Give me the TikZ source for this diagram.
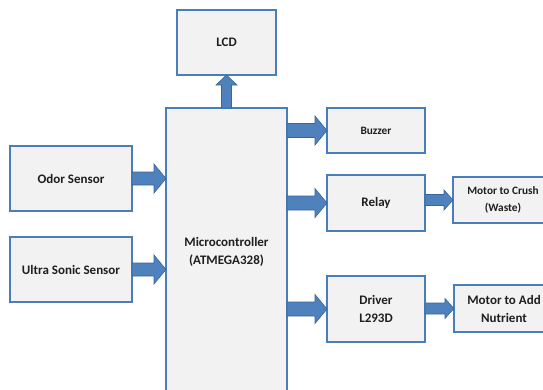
\documentclass[tikz,border=0pt]{standalone}
\usepackage{fontspec}
\setmainfont{Carlito}
\usetikzlibrary{calc}
\definecolor{boxfill}{HTML}{F2F2F2}
\definecolor{boxline}{HTML}{4A7EBB}
\definecolor{arrfill}{HTML}{4F81BD}
\definecolor{arrline}{HTML}{3A6699}
\definecolor{txt}{HTML}{1E1E1E}
\tikzset{
  blockbox/.style={draw=boxline, fill=boxfill, line width=1.3pt, inner sep=0pt, outer sep=0pt,
    align=center, text=txt, font=\bfseries\fontsize{13}{18}\selectfont},
  smalltext/.style={font=\bfseries\fontsize{11.3}{17}\selectfont},
  blockarr/.style={fill=arrfill, draw=arrline, line width=0.6pt, line join=miter}
}
\newcommand\harr[5]{\draw[blockarr] let \p1=(#1), \p2=(#2) in
  (\x1,\y1+#3) -- (\x2-#5,\y1+#3) -- (\x2-#5,\y1+#4) -- (\x2,\y1) --
  (\x2-#5,\y1-#4) -- (\x2-#5,\y1-#3) -- (\x1,\y1-#3) -- cycle;}
\newcommand\varr[5]{\draw[blockarr] let \p1=(#1), \p2=(#2) in
  (\x1+#3,\y1) -- (\x1+#3,\y2-#5) -- (\x1+#4,\y2-#5) -- (\x1,\y2) --
  (\x1-#4,\y2-#5) -- (\x1-#3,\y2-#5) -- (\x1-#3,\y1) -- cycle;}
\begin{document}
\begin{tikzpicture}[x=1pt,y=-1pt]
\useasboundingbox (0,0) rectangle (543,389);
\clip (0,0) rectangle (543,389);
\fill[white] (0,0) rectangle (543,389);
% boxes
\node[blockbox, minimum width=99pt, minimum height=65pt] (lcd) at (226.5,42.5) {LCD};
\node[blockbox, minimum width=122pt, minimum height=65pt] (odor) at (71,178.5) {Odor Sensor};
\node[blockbox, minimum width=122pt, minimum height=65pt] (ultra) at (71,269.5) {Ultra Sonic Sensor};
\node[blockbox, minimum width=121pt, minimum height=287pt] (micro) at (226.5,251.5) {Microcontroller\\(ATMEGA328)};
\node[blockbox, smalltext, minimum width=98pt, minimum height=45pt] (buzzer) at (376,130.5) {Buzzer};
\node[blockbox, minimum width=98pt, minimum height=56pt] (relay) at (376,203) {Relay};
\node[blockbox, minimum width=98pt, minimum height=66pt] (driver) at (376,309) {Driver\\L293D};
\node[blockbox, smalltext, minimum width=100pt, minimum height=46pt] (crush) at (503,200) {Motor to Crush\\(Waste)};
\node[blockbox, minimum width=100pt, minimum height=47pt] (add) at (504,308.5) {Motor to Add\\Nutrient};
% arrows
\varr{micro.north}{lcd.south}{5pt}{10.5pt}{10pt}
\harr{odor.east}{micro.west}{6.5pt}{14.5pt}{12pt}
\harr{ultra.east}{micro.west}{6.5pt}{14.5pt}{12pt}
\harr{micro.east |- buzzer.west}{buzzer.west}{7pt}{14.5pt}{12pt}
\harr{micro.east |- relay.west}{relay.west}{7pt}{14.5pt}{12pt}
\harr{micro.east |- driver.west}{driver.west}{7pt}{14.5pt}{12pt}
\harr{relay.east |- crush.west}{crush.west}{5.5pt}{10pt}{9pt}
\harr{driver.east |- add.west}{add.west}{5.5pt}{10pt}{9pt}
\end{tikzpicture}
\end{document}
